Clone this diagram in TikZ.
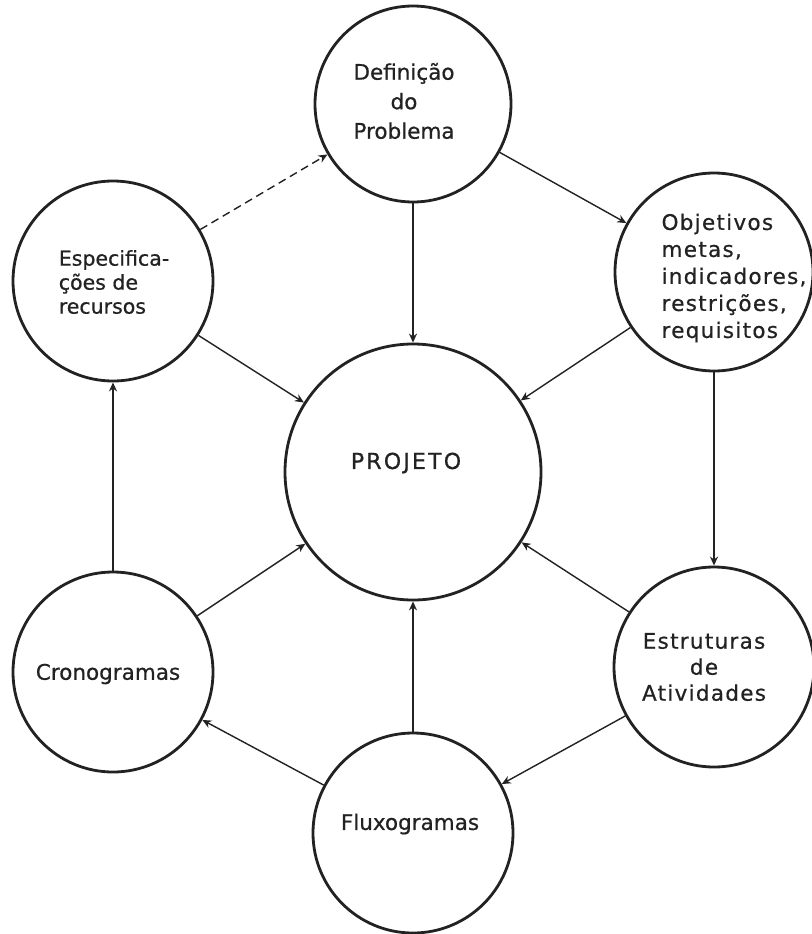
\documentclass[tikz,border=0pt]{standalone}
\usepackage{fontspec}
\setmainfont{DejaVu Sans}
\usetikzlibrary{arrows.meta}
\definecolor{ink}{HTML}{222222}
\begin{document}
\begin{tikzpicture}[x=1pt,y=-1pt,
  bubble/.style={circle,draw=ink,line width=2.8pt,minimum size=#1,inner sep=0pt},
  link/.style={draw=ink,line width=1.4pt,-{Stealth[length=9pt,width=8pt]}},
  lbl/.style={text=ink,inner sep=0pt,font=\fontsize{21.5}{27}\selectfont\addfontfeature{FakeBold=0.6}}]
\useasboundingbox[fill=white] (0,0) rectangle (811,934);

% circles
\node[bubble=196pt] (def)  at (413,104) {};
\node[bubble=198pt] (obj)  at (714,272) {};
\node[bubble=200pt] (spec) at (113,281) {};
\node[bubble=256pt] (proj) at (413,472) {};
\node[bubble=200pt] (cron) at (113,672) {};
\node[bubble=200pt] (estr) at (714,667) {};
\node[bubble=200pt] (flux) at (413,833) {};

% labels
\node[lbl,align=center,font=\fontsize{21.5}{29.5}\selectfont\addfontfeature{FakeBold=0.6}] (tdef) at (404,101) {Definição\\do\\Problema};
\node[lbl,align=left,font=\fontsize{21.5}{27}\selectfont\addfontfeature{LetterSpace=6,FakeBold=0.6}] (tobj) at (734,278) {Objetivos\\metas,\\indicadores,\\restrições,\\requisitos};
\node[lbl,align=left,font=\fontsize{20.5}{24}\selectfont\addfontfeature{FakeBold=0.6}] (tspec) at (114,282) {Especifica-\\ções de\\recursos};
\node[lbl,font=\fontsize{22}{27}\selectfont\addfontfeature{LetterSpace=10,FakeBold=0.6}] (tproj) at (406,463) {PROJETO};
\node[lbl] (tcron) at (108,674) {Cronogramas};
\node[lbl,align=center,font=\fontsize{21.5}{26}\selectfont\addfontfeature{LetterSpace=6,FakeBold=0.6}] (testr) at (704,667) {Estruturas\\de\\Atividades};
\node[lbl] (tflux) at (410,824) {Fluxogramas};

% connectors
\draw[link,dashed,dash pattern=on 8pt off 5pt] (spec) -- (def);
\draw[link] (def) -- (obj);
\draw[link] (def) -- (proj);
\draw[link] (obj) -- (proj);
\draw[link] (obj) -- (estr);
\draw[link] (spec) -- (proj);
\draw[link] (cron) -- (spec);
\draw[link] (cron) -- (proj);
\draw[link] (estr) -- (proj);
\draw[link] (flux) -- (proj);
\draw[link] (flux) -- (cron);
\draw[link] (estr) -- (flux);
\end{tikzpicture}
\end{document}
